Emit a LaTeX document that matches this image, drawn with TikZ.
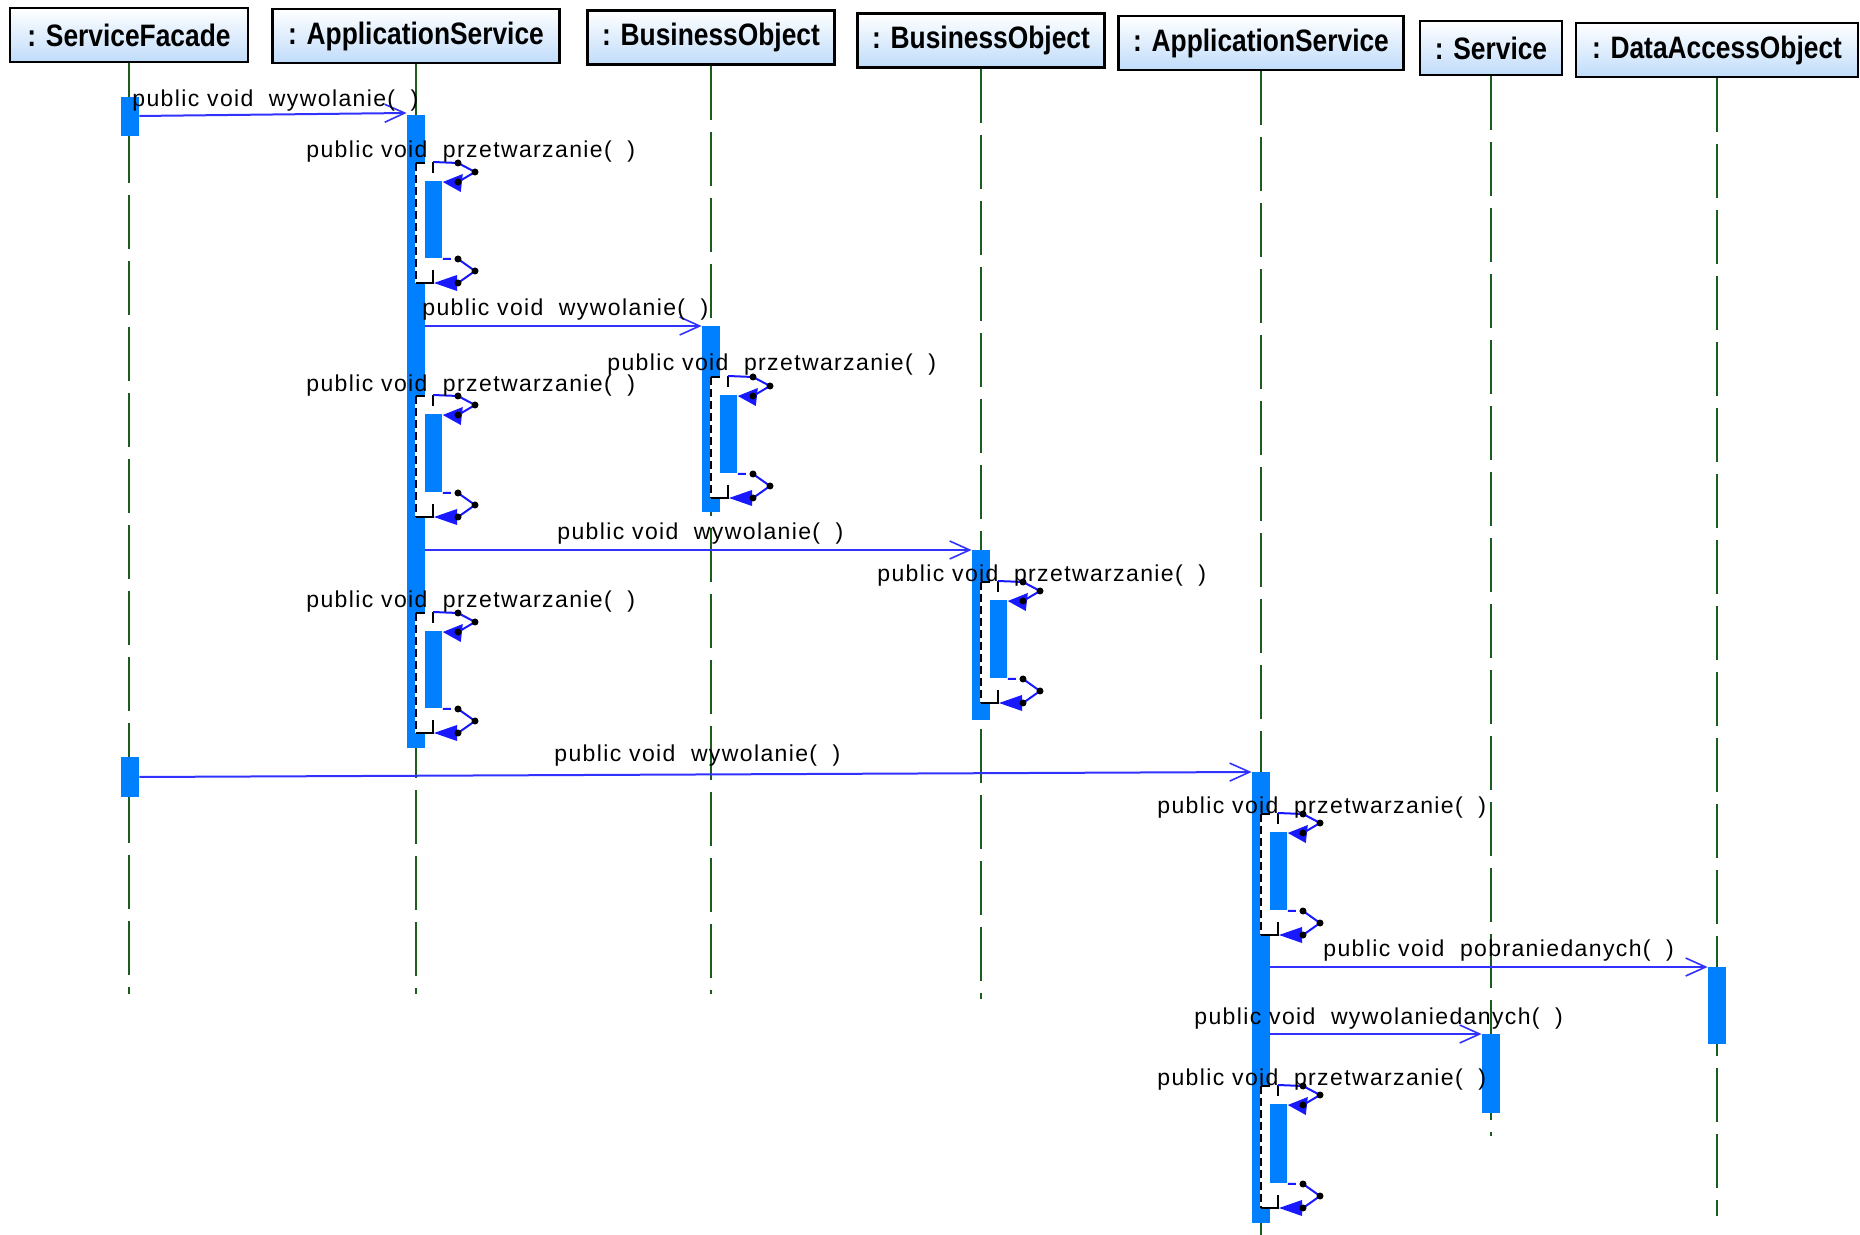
\documentclass[tikz,border=0pt]{standalone}
\usepackage{fontspec}
\setmainfont{Liberation Sans}
\newfontfamily\hdrfont{Liberation Sans}[FakeStretch=0.85]
\newfontfamily\lblfont{Liberation Sans}[LetterSpace=6]
\usetikzlibrary{arrows.meta}

\definecolor{actblue}{RGB}{0,128,255}
\definecolor{msgblue}{RGB}{50,50,255}
\definecolor{lifegreen}{RGB}{28,92,28}
\definecolor{hdrbot}{RGB}{192,220,250}
\definecolor{callblue}{RGB}{25,25,255}

\tikzset{
  hdr/.style={draw=black, line width=1.1pt, top color=white, bottom color=hdrbot,
    inner sep=0pt, minimum height=27pt, font=\hdrfont\bfseries\fontsize{15.5}{17}\selectfont},
  life/.style={draw=lifegreen, line width=1pt, dash pattern=on 27pt off 6pt},
  act/.style={fill=actblue, draw=none, inner sep=0pt, minimum width=9pt},
  nest/.style={act, minimum width=8.5pt},
  msg/.style={draw=msgblue, line width=1pt,
    -{Straight Barb[length=10pt,width=9pt,line width=0.8pt]}},
  lbl/.style={anchor=base west, inner sep=0pt, font=\lblfont\fontsize{11.5}{13}\selectfont},
  scline/.style={draw=black, line width=0.75pt},
  scdash/.style={scline, dash pattern=on 4pt off 2pt},
  scblue/.style={draw=callblue, line width=1pt},
}

% self call on the lifeline at x=#1: nested activation from #2 to #3, named #4
\newcommand\selfcall[4]{%
  \fill[white] ({#1-1},{#2-18}) rectangle ({#1+9},{#3+25});
  \draw[scline] ({#1+9},{#2-18}) -- ({#1},{#2-18});
  \draw[scdash] ({#1},{#2-18}) -- ({#1},{#3+25});
  \draw[scline] ({#1},{#3+25}) -- ({#1+18},{#3+25});
  \draw[scline] ({#1+17},{#2-19}) -- ({#1+17},{#2-8});
  \draw[scline] ({#1+17},{#3+12}) -- ({#1+17},{#3+25});
  \node[nest, anchor=north west, minimum height={(#3-#2)*0.5pt}] (#4) at ({#1+9},{#2}) {};
  \draw[scblue] ({#1+17},{#2-19}) -- ({#1+42},{#2-18}) -- ({#1+59},{#2-9}) -- ({#1+42},{#2+1});
  \fill[callblue] (#4.north east) ++(0,1) -- ++(20,-8) -- ++(-2,18) -- cycle;
  \draw[scblue, dash pattern=on 4pt off 2pt] (#4.south east) -- ({#1+42},{#3+1});
  \draw[scblue] ({#1+42},{#3+1}) -- ({#1+59},{#3+13}) -- ({#1+42},{#3+25});
  \fill[callblue] ({#1+18},{#3+25}) -- ++(23,-8) -- ++(0,16) -- cycle;
  \foreach \dx/\dy in {42/-18,59/-9,42/1} \fill ({#1+\dx},{#2+\dy}) circle (1.75pt);
  \foreach \dx/\dy in {42/1,59/13,42/25} \fill ({#1+\dx},{#3+\dy}) circle (1.75pt);
}

\begin{document}
\begin{tikzpicture}[x=0.5pt,y=-0.5pt]
\useasboundingbox (0,0) rectangle (1860,1235);

% object heads
\node[hdr, minimum width=119pt]   (h1) at (129,35)   {: ServiceFacade};
\node[hdr, minimum width=143.5pt] (h2) at (416,36)   {: ApplicationService};
\node[hdr, minimum width=123.5pt] (h3) at (711,37.5) {: BusinessObject};
\node[hdr, minimum width=123.5pt] (h4) at (981,40.5) {: BusinessObject};
\node[hdr, minimum width=142.5pt] (h5) at (1261,43)  {: ApplicationService};
\node[hdr, minimum width=71pt]    (h6) at (1491,48)  {: Service};
\node[hdr, minimum width=141pt]   (h7) at (1717,50)  {: DataAccessObject};

% lifelines
\coordinate (e1) at (129,994);
\coordinate (e2) at (416,994);
\coordinate (e3) at (711,994);
\coordinate (e4) at (981,999);
\coordinate (e5) at (1261,1235);
\coordinate (e6) at (1491,1136);
\coordinate (e7) at (1717,1216);
\foreach \i in {1,...,7} \draw[life] (h\i.south) -- (e\i);

% activations
\node[act, anchor=north, minimum height=19.5pt]  (sf1) at (130,97) {};
\node[act, anchor=north, minimum height=20pt]    (sf2) at (130,757) {};
\node[act, anchor=north, minimum height=316.5pt] (as1) at (416,115) {};
\node[act, anchor=north, minimum height=93pt]    (bo1) at (711,326) {};
\node[act, anchor=north, minimum height=85pt]    (bo2) at (981,550) {};
\node[act, anchor=north, minimum height=225.5pt] (as2) at (1261,772) {};
\node[act, anchor=north, minimum height=39.5pt]  (sv)  at (1491,1034) {};
\node[act, anchor=north, minimum height=38.5pt]  (dao) at (1717,967) {};

% self calls
\selfcall{416}{181}{258}{as1a}
\selfcall{416}{414}{492}{as1b}
\selfcall{416}{631}{708}{as1c}
\selfcall{711}{395}{473}{bo1a}
\selfcall{981}{600}{678}{bo2a}
\selfcall{1261}{832}{910}{as2a}
\selfcall{1261}{1104}{1183}{as2b}

% messages
\draw[msg] ([yshift=-9.5pt]sf1.north east) -- ([yshift=1pt]as1.north west);
\draw[msg] (as1.east |- bo1.north) -- (bo1.north west);
\draw[msg] (as1.east |- bo2.north) -- (bo2.north west);
\draw[msg] ([yshift=-10pt]sf2.north east) -- (as2.north west);
\draw[msg] (as2.east |- dao.north) -- (dao.north west);
\draw[msg] (as2.east |- sv.north) -- (sv.north west);

% message labels
\node[lbl] (l1) at (132,107)  {public void\ \ wywolanie(\ \ )};
\node[lbl] (l2) at (422,316)  {public void\ \ wywolanie(\ \ )};
\node[lbl] (l3) at (557,540)  {public void\ \ wywolanie(\ \ )};
\node[lbl] (l4) at (554,762)  {public void\ \ wywolanie(\ \ )};
\node[lbl] (l5) at (1323,956) {public void\ \ pobraniedanych(\ \ )};
\node[lbl] (l6) at (1194,1024) {public void\ \ wywolaniedanych(\ \ )};

% self call labels
\node[lbl] (s1) at (306,158)  {public void\ \ przetwarzanie(\ \ )};
\node[lbl] (s2) at (306,392)  {public void\ \ przetwarzanie(\ \ )};
\node[lbl] (s3) at (306,608)  {public void\ \ przetwarzanie(\ \ )};
\node[lbl] (s4) at (607,371)  {public void\ \ przetwarzanie(\ \ )};
\node[lbl] (s5) at (877,582)  {public void\ \ przetwarzanie(\ \ )};
\node[lbl] (s6) at (1157,813) {public void\ \ przetwarzanie(\ \ )};
\node[lbl] (s7) at (1157,1085) {public void\ \ przetwarzanie(\ \ )};
\end{tikzpicture}
\end{document}
